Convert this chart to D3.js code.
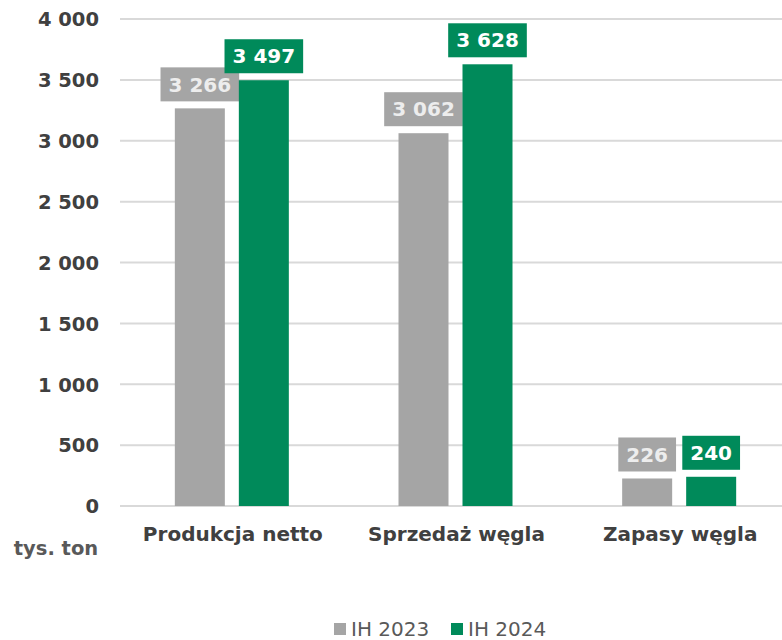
<!DOCTYPE html>
<html><head><meta charset="utf-8">
<script src="https://cdn.jsdelivr.net/npm/d3@7"></script>
<style>body{margin:0;background:#fff}svg{display:block}</style>
</head><body>
<script>
const categories = ["Produkcja netto", "Sprzedaż węgla", "Zapasy węgla"];
const seriesNames = ["IH 2023", "IH 2024"];
const values2023 = [3266, 3062, 226];
const values2024 = [3497, 3628, 240];
const yTicks = [0, 500, 1000, 1500, 2000, 2500, 3000, 3500, 4000];
const unitLabel = "tys. ton";

const colors = ["#A5A5A5", "#008A5A"];
const labelText = ["#EDEDED", "#FFFFFF"];
const fmt = v => { const s = String(v); return s.length > 3 ? s.slice(0, s.length-3) + " " + s.slice(-3) : s; };
const font = "'DejaVu Sans', sans-serif";

const W = 782, H = 640;
const svg = d3.select("body").append("svg").attr("width", W).attr("height", H);

const x = d3.scaleBand().domain(categories).range([120, 791]).paddingInner(0).paddingOuter(0);
const y = d3.scaleLinear().domain([0, 4000]).range([506, 19]);
const barW = 50, gap = 14;

// grid
svg.append("g").selectAll("line").data(yTicks).join("line")
  .attr("x1", 120).attr("x2", W).attr("y1", d => y(d)).attr("y2", d => y(d))
  .attr("stroke", "#D9D9D9").attr("stroke-width", 2);

// y axis
const yAxis = d3.axisLeft(y).tickValues(yTicks).tickSize(0).tickPadding(0).tickFormat(fmt);
const ya = svg.append("g").attr("transform", "translate(99,0)").call(yAxis);
ya.select(".domain").remove();
ya.selectAll("text").attr("font-family", font).attr("font-weight", "bold").attr("font-size", 19.5).attr("fill", "#404040").attr("dy", "0.35em");

// x axis
const xAxis = d3.axisBottom(x).tickSize(0).tickPadding(0);
const xa = svg.append("g").attr("transform", "translate(1,527)").call(xAxis);
xa.select(".domain").remove();
xa.selectAll("text").attr("font-family", font).attr("font-weight", "bold").attr("font-size", 20).attr("fill", "#404040");

svg.append("text").attr("x", 56).attr("y", 555).attr("text-anchor", "middle")
  .attr("font-family", font).attr("font-weight", "bold").attr("font-size", 19.5).attr("fill", "#595959").text(unitLabel);

const series = [values2023, values2024];
series.forEach((vals, si) => {
  const g = svg.append("g");
  const bx = (c) => x(c) + x.bandwidth()/2 + (si === 0 ? -(gap/2 + barW) : gap/2);
  g.selectAll("rect.bar").data(categories).join("rect").attr("class", "bar")
    .attr("x", c => bx(c)).attr("width", barW)
    .attr("y", (c, i) => y(vals[i])).attr("height", (c, i) => y(0) - y(vals[i]))
    .attr("fill", colors[si]);
  // labels
  categories.forEach((c, i) => {
    const cx = bx(c) + barW/2;
    const t = g.append("text").attr("x", cx).attr("text-anchor", "middle")
      .attr("font-family", font).attr("font-weight", "bold").attr("font-size", 20)
      .attr("fill", labelText[si]).text(fmt(vals[i]));
    const tw = t.node().getComputedTextLength();
    const bh = 34, bw = tw + 16;
    const bottom = y(vals[i]) - 7;
    g.insert("rect", "text").attr("x", cx - bw/2).attr("y", bottom - bh).attr("width", bw).attr("height", bh).attr("fill", colors[si]);
    t.attr("y", bottom - bh/2).attr("dy", "0.36em");
    t.raise();
  });
});

// legend
const leg = svg.append("g");
const legX = [334, 451];
seriesNames.forEach((n, i) => {
  leg.append("rect").attr("x", legX[i]).attr("y", 623).attr("width", 12).attr("height", 12).attr("fill", colors[i]);
  leg.append("text").attr("x", legX[i] + 17).attr("y", 629).attr("dy", "0.36em")
    .attr("font-family", font).attr("font-size", 20).attr("fill", "#595959").text(n);
});
</script>
</body></html>
